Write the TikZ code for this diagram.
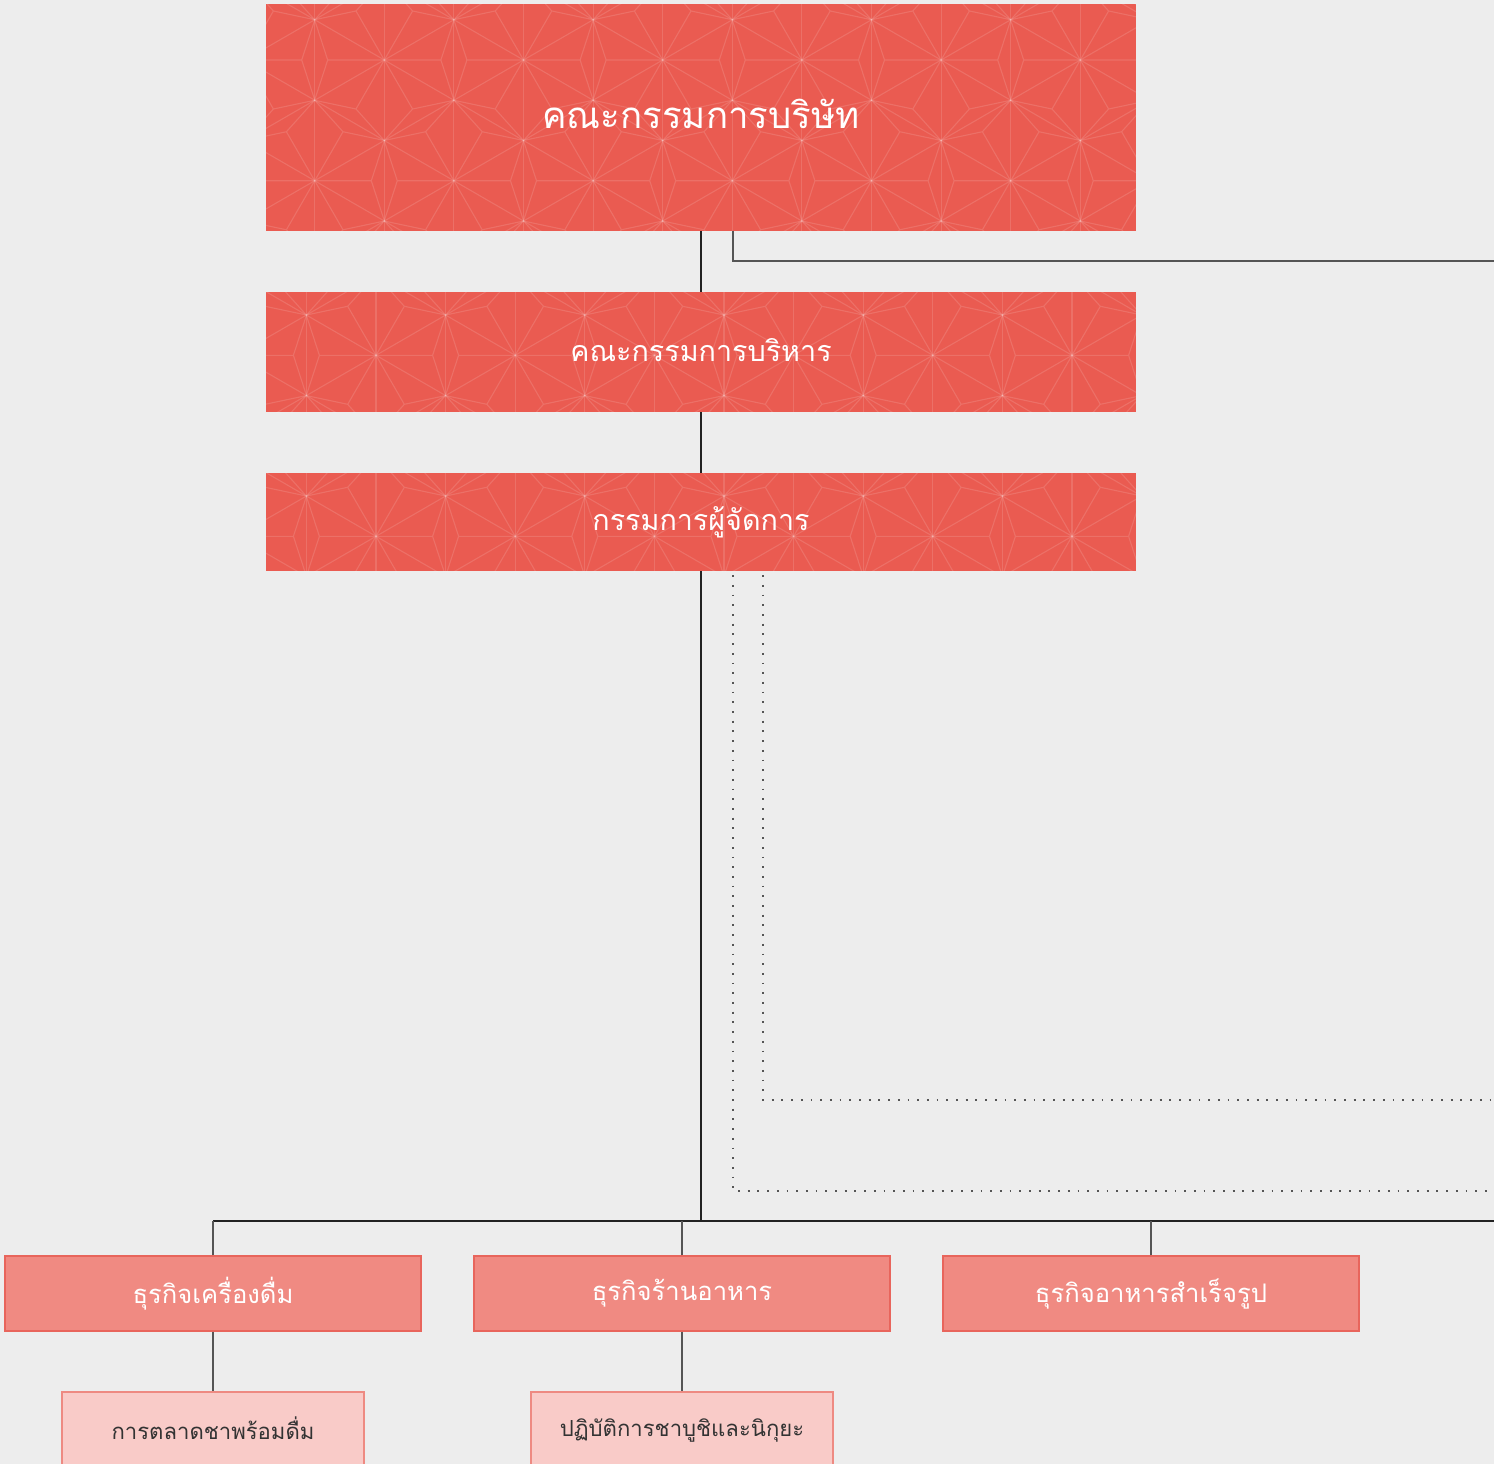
\documentclass[tikz,border=0pt]{standalone}
\usepackage{fontspec}
\newfontfamily\thai[Script=Thai]{Loma}
\usetikzlibrary{calc}
\pgfdeclarelayer{bgzero}
\pgfdeclarelayer{background}
\pgfsetlayers{bgzero,background,main}
\definecolor{pagebg}{HTML}{EDEDED}
\definecolor{topred}{HTML}{EA5B51}
\definecolor{bizfill}{HTML}{F08A82}
\definecolor{bizdraw}{HTML}{E8655C}
\definecolor{subfill}{HTML}{F9CBC8}
\definecolor{subdraw}{HTML}{EE8A82}
\definecolor{linedark}{HTML}{222222}
\definecolor{linegray}{HTML}{555555}
\definecolor{subtext}{HTML}{333333}
\tikzset{
  pat/.style={draw=white, draw opacity=0.13, line width=1.1pt},
  topbox/.style={inner sep=0pt, minimum width=870pt, text=white, font=\thai},
  bizbox/.style={inner sep=0pt, minimum width=416pt, minimum height=75pt, fill=bizfill, draw=bizdraw, line width=1.1pt, text=white, font=\thai\fontsize{25.6}{30}\selectfont},
  subbox/.style={inner sep=0pt, minimum width=302pt, minimum height=76pt, fill=subfill, draw=subdraw, line width=1.1pt, text=subtext, font=\thai\fontsize{22.1}{26}\selectfont},
  conn/.style={draw=linedark, line width=1.3pt},
  conngray/.style={draw=linegray, line width=1.3pt},
  dotline/.style={draw=linegray, line width=1.8pt, dash pattern=on 1.8pt off 7.9pt},
}
\newcommand\asanoha[6]{%
  \begin{scope}
  \clip (#1,#2) rectangle (#3,#4);
  \foreach \k in {-3,...,12} \draw[pat] ({#5+69.6*\k},#2) -- ({#5+69.6*\k},#4);
  \foreach \m in {-10,...,10} {
    \draw[pat] (#1,{#6+80.5*\m+0.5783*(#1-#5)}) -- (#3,{#6+80.5*\m+0.5783*(#3-#5)});
    \draw[pat] (#1,{#6+80.5*\m-0.5783*(#1-#5)}) -- (#3,{#6+80.5*\m-0.5783*(#3-#5)});
  }
  \foreach \i in {-3,...,7} \foreach \j in {-1,...,2} {
    \coordinate (T) at ({#5+139.2*\i+69.6*\j},{#6+120.75*\j});
    \foreach \t in {0,60,...,300}
      \draw[pat] ($(T)+(\t+30:80.5)$) -- ($(T)+(\t:56.6)$) -- ($(T)+(\t-30:80.5)$) (T) -- ($(T)+(\t:56.6)$);
  }
  \end{scope}}
\begin{document}
\begin{tikzpicture}[x=1pt,y=-1pt]
\useasboundingbox (0,0) rectangle (1494,1464);
\begin{pgfonlayer}{bgzero}
\fill[pagebg] (0,0) rectangle (1494,1464);
\end{pgfonlayer}

% top boxes
\node[topbox, minimum height=227pt, font=\thai\fontsize{36.6}{42}\selectfont] (b1) at (701,117.5) {\raisebox{7pt}{คณะกรรมการบริษัท}};
\node[topbox, minimum height=120pt, font=\thai\fontsize{28.7}{34}\selectfont] (b2) at (701,352) {\raisebox{4pt}{คณะกรรมการบริหาร}};
\node[topbox, minimum height=98pt, font=\thai\fontsize{28.7}{34}\selectfont] (b3) at (701,522) {\raisebox{1pt}{กรรมการผู้จัดการ}};

\begin{pgfonlayer}{background}
\fill[topred] (b1.north west) rectangle (b1.south east);
\fill[topred] (b2.north west) rectangle (b2.south east);
\fill[topred] (b3.north west) rectangle (b3.south east);
\asanoha{266}{4}{1136}{231}{384.3}{60}
\asanoha{266}{292}{1136}{412}{376}{355.3}
\asanoha{266}{473}{1136}{571}{376}{536.3}
\end{pgfonlayer}

% business boxes
\node[bizbox] (biz1) at (213,1293.5) {ธุรกิจเครื่องดื่ม};
\node[bizbox] (biz2) at (682,1293.5) {ธุรกิจร้านอาหาร};
\node[bizbox] (biz3) at (1151,1293.5) {ธุรกิจอาหารสำเร็จรูป};

% sub boxes
\node[subbox] (sub1) at (213,1430) {\raisebox{3pt}{การตลาดชาพร้อมดื่ม}};
\node[subbox] (sub2) at (682,1430) {\raisebox{1pt}{ปฏิบัติการชาบูชิและนิกุยะ}};

% free ends
\coordinate (r1) at (1494,261);
\coordinate (d2) at (1494,1100);
\coordinate (d1) at (1494,1191);
\coordinate (busR) at (1494,1221);

% connectors
\draw[conn] (b1.south) -- (b2.north);
\draw[conn] (b2.south) -- (b3.north);
\draw[conngray] ([xshift=32pt]b1.south) |- (r1);
\draw[conn] (b3.south) -- (b3.south |- busR);
\draw[conn] (biz1.north |- busR) -- (busR);
\draw[conngray] (biz1.north) -- (biz1.north |- busR);
\draw[conngray] (biz2.north) -- (biz2.north |- busR);
\draw[conngray] (biz3.north) -- (biz3.north |- busR);
\draw[dotline] ([xshift=32pt,yshift=-4pt]b3.south) |- (d1);
\draw[dotline] ([xshift=62pt,yshift=-4pt]b3.south) |- (d2);
\draw[conngray] (biz1.south) -- (sub1.north);
\draw[conngray] (biz2.south) -- (sub2.north);
\end{tikzpicture}
\end{document}
